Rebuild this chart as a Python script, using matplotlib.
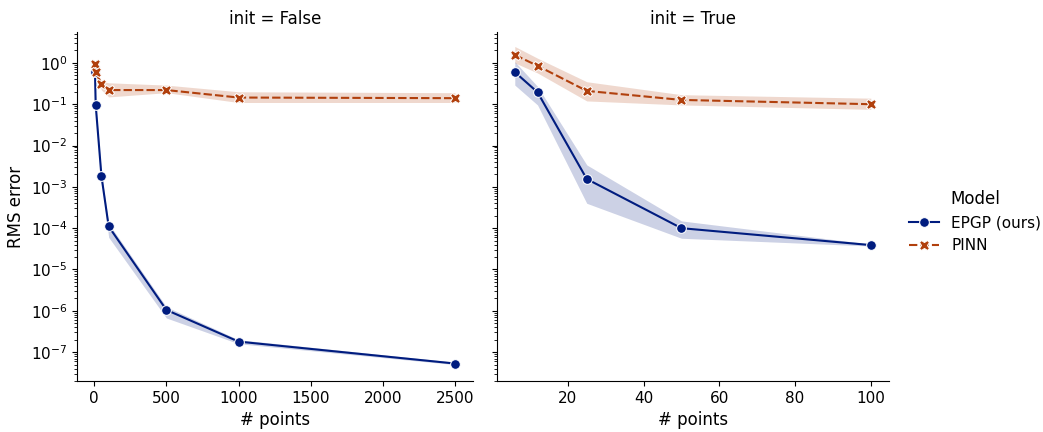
import numpy as np
import matplotlib
matplotlib.use("Agg")
import matplotlib.pyplot as plt
from matplotlib.lines import Line2D

plt.rcParams['font.family'] = ['DejaVu Sans']
plt.rcParams['xtick.labelsize'] = 11
plt.rcParams['ytick.labelsize'] = 11

# ---- data ----
models = ["EPGP (ours)", "PINN"]
colors = ["#001c7f", "#b1400d"]

# init = False panel
x_false = [5, 10, 50, 100, 500, 1000, 2500]
epgp_false = [0.6, 0.095, 0.0018, 1.1e-4, 1.05e-6, 1.8e-7, 5.3e-8]
epgp_false_lo = [0.5, 0.08, 0.0015, 6.0e-5, 6.7e-7, 1.6e-7, 5.0e-8]
epgp_false_hi = [0.7, 0.11, 0.0021, 1.3e-4, 1.25e-6, 2.0e-7, 5.7e-8]
pinn_false = [0.95, 0.6, 0.31, 0.22, 0.22, 0.145, 0.14]
pinn_false_lo = [0.85, 0.5, 0.22, 0.15, 0.19, 0.11, 0.11]
pinn_false_hi = [1.05, 0.7, 0.36, 0.33, 0.29, 0.2, 0.19]

# init = True panel
x_true = [6, 12, 25, 50, 100]
epgp_true = [0.6, 0.195, 0.00155, 1.0e-4, 3.9e-5]
epgp_true_lo = [0.29, 0.096, 4.0e-4, 5.7e-5, 3.7e-5]
epgp_true_hi = [1.07, 0.27, 0.0034, 1.5e-4, 4.1e-5]
pinn_true = [1.56, 0.85, 0.21, 0.127, 0.10]
pinn_true_lo = [1.0, 0.57, 0.12, 0.096, 0.075]
pinn_true_hi = [2.5, 1.3, 0.35, 0.17, 0.14]

panels = [
    ("init = False", x_false,
     [(epgp_false, epgp_false_lo, epgp_false_hi), (pinn_false, pinn_false_lo, pinn_false_hi)]),
    ("init = True", x_true,
     [(epgp_true, epgp_true_lo, epgp_true_hi), (pinn_true, pinn_true_lo, pinn_true_hi)]),
]

markers = ["o", "X"]
msizes = [7, 7.5]
dashes = [None, (4, 1.5)]

fig = plt.figure(figsize=(10.43, 4.32), dpi=100)
ax1 = fig.add_axes([0.0738, 0.118, 0.3797, 0.808])
ax2 = fig.add_axes([0.4765, 0.118, 0.3755, 0.808], sharey=ax1)
axes = [ax1, ax2]

for ax, (title, xs, series) in zip(axes, panels):
    for i, (vals, lo, hi) in enumerate(series):
        ax.fill_between(xs, lo, hi, color=colors[i], alpha=0.2, linewidth=0)
        line, = ax.plot(xs, vals, color=colors[i], marker=markers[i], markersize=msizes[i],
                        markeredgecolor="white", markeredgewidth=0.75, linewidth=1.5,
                        label=models[i])
        if dashes[i] is not None:
            line.set_dashes(dashes[i])
    ax.set_yscale("log")
    ax.set_title(title, fontsize=12)
    ax.set_xlabel("# points", fontsize=12)
    ax.spines['top'].set_visible(False)
    ax.spines['right'].set_visible(False)

ax1.set_ylim(2e-8, 5.6)
ax1.set_ylabel("RMS error", fontsize=12)
ax1.set_yticks([10.0**k for k in range(-7, 1)])
ax1.set_xticks([0, 500, 1000, 1500, 2000, 2500])
ax2.set_xticks([20, 40, 60, 80, 100])
plt.setp(ax2.get_yticklabels(), visible=False)

handles = [
    Line2D([], [], color=colors[0], marker="o", markersize=msizes[0], markeredgecolor="white",
           markeredgewidth=0.75, linewidth=1.5),
    Line2D([], [], color=colors[1], marker="X", markersize=msizes[1], markeredgecolor="white",
           markeredgewidth=0.75, linewidth=1.5, dashes=(4, 1.5)),
]
fig.legend(handles, models, title="Model", loc="center left",
           bbox_to_anchor=(0.858, 0.487), frameon=False, fontsize=11, title_fontsize=12)

fig.savefig("out.png", dpi=100)
